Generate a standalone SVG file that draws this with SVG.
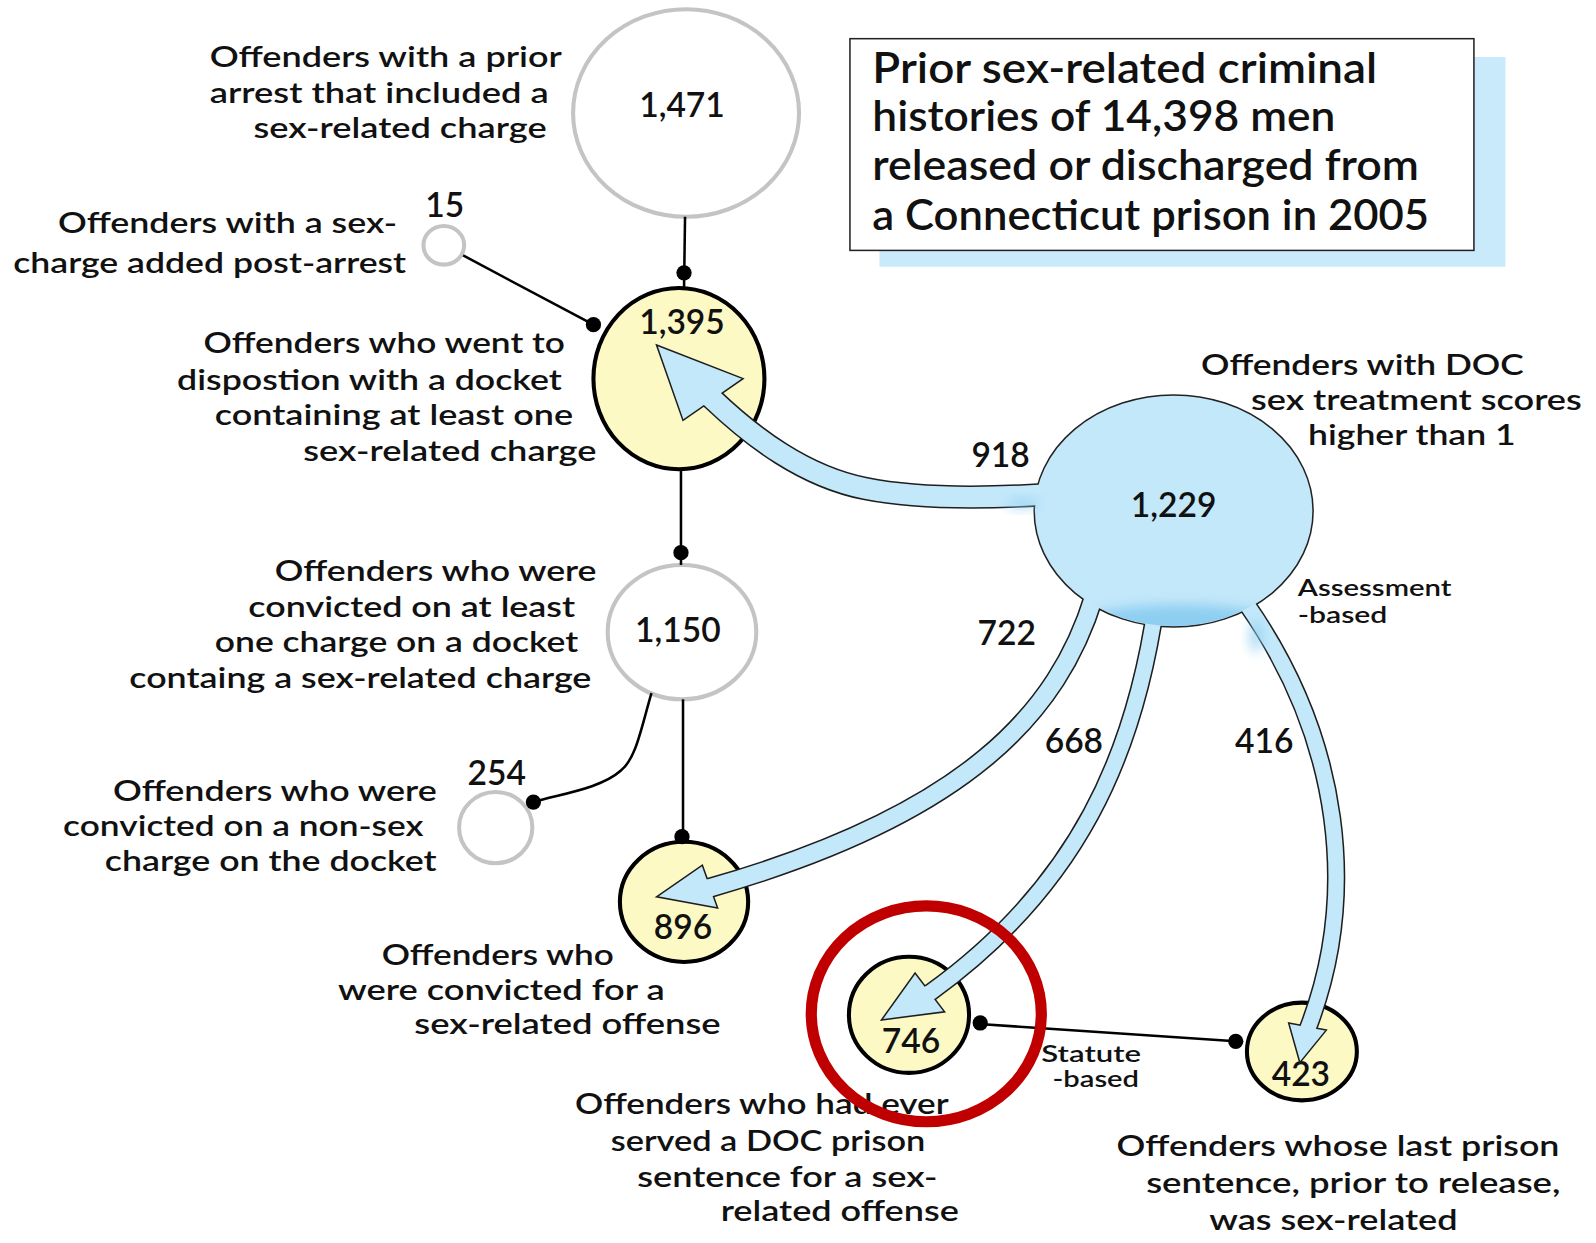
<svg xmlns="http://www.w3.org/2000/svg" width="1596" height="1243" viewBox="0 0 1596 1243">
<style>
text { font-family: Lato, "Open Sans", "Liberation Sans", sans-serif; fill: #111; }
.lbl { font-size: 29px; font-weight: 600; }
.num { font-size: 33px; font-weight: 600; text-anchor: middle; }
.ttl { font-size: 42px; font-weight: 600; }
.sm { font-size: 23px; font-weight: 600; }
.gray { fill: #fff; stroke: #c4c4c4; stroke-width: 4; }
.yel { fill: #fdf9c4; stroke: #000; stroke-width: 4; }
.ln { fill: none; stroke: #000; stroke-width: 2.5; }
.dot { fill: #000; }
.sh-o { fill: none; stroke: #1e1e1e; }
.sh-f { fill: none; stroke: #c3e8fa; }
.head { fill: #c3e8fa; stroke: #1e1e1e; stroke-width: 1.5; stroke-linejoin: miter; }
</style>
<defs>
<mask id="outside1229" maskUnits="userSpaceOnUse" x="0" y="0" width="1600" height="1250">
<rect x="0" y="0" width="1600" height="1250" fill="#fff"/>
<ellipse cx="1153" cy="502" rx="137" ry="114" fill="#000"/>
</mask>
<clipPath id="clip1229"><ellipse cx="1153" cy="502" rx="136" ry="113"/></clipPath>
<filter id="blur6" x="-50%" y="-50%" width="200%" height="200%"><feGaussianBlur stdDeviation="6"/></filter>
</defs>
<rect x="0" y="0" width="1596" height="1243" fill="#fff"/>
<g transform="scale(1.0179)">

<g id="title">
<rect x="864" y="56" width="615" height="206" fill="#c8eafa"/>
<rect x="835" y="38" width="613" height="208" fill="#fff" stroke="#222" stroke-width="1.5"/>
<text class="ttl" x="857" y="82" textLength="496" lengthAdjust="spacingAndGlyphs">Prior sex-related criminal</text>
<text class="ttl" x="857" y="129" textLength="455" lengthAdjust="spacingAndGlyphs">histories of 14,398 men</text>
<text class="ttl" x="857" y="177" textLength="537" lengthAdjust="spacingAndGlyphs">released or discharged from</text>
<text class="ttl" x="857" y="226" textLength="547" lengthAdjust="spacingAndGlyphs">a Connecticut prison in 2005</text>
</g>

<g id="node-1471">
<ellipse class="gray" cx="674" cy="111" rx="111" ry="102"/>
<text class="num" x="670" y="115">1,471</text>
<text class="lbl" x="206" y="66" textLength="346" lengthAdjust="spacingAndGlyphs">Offenders with a prior</text>
<text class="lbl" x="206" y="101" textLength="333" lengthAdjust="spacingAndGlyphs">arrest that included a</text>
<text class="lbl" x="249" y="136" textLength="288" lengthAdjust="spacingAndGlyphs">sex-related charge</text>
</g>

<g id="node-15">
<ellipse class="gray" cx="436" cy="241" rx="20" ry="19" stroke-width="3.5"/>
<text class="num" x="437" y="213">15</text>
<text class="lbl" x="57" y="229" textLength="333" lengthAdjust="spacingAndGlyphs">Offenders with a sex-</text>
<text class="lbl" x="13" y="268" textLength="386" lengthAdjust="spacingAndGlyphs">charge added post-arrest</text>
</g>

<g id="node-1395">
<ellipse class="yel" cx="667" cy="372" rx="84" ry="89"/>
<text class="num" x="670" y="328">1,395</text>
<text class="lbl" x="200" y="347" textLength="355" lengthAdjust="spacingAndGlyphs">Offenders who went to</text>
<text class="lbl" x="174" y="383" textLength="378" lengthAdjust="spacingAndGlyphs">dispostion with a docket</text>
<text class="lbl" x="211" y="418" textLength="352" lengthAdjust="spacingAndGlyphs">containing at least one</text>
<text class="lbl" x="298" y="453" textLength="288" lengthAdjust="spacingAndGlyphs">sex-related charge</text>
</g>

<g id="node-1229">
<ellipse cx="1153" cy="502" rx="137" ry="114" fill="#c3e8fa" stroke="#222" stroke-width="1.5"/>
<text class="num" x="1153" y="508">1,229</text>
<text class="lbl" x="1180" y="368" textLength="317" lengthAdjust="spacingAndGlyphs">Offenders with  DOC</text>
<text class="lbl" x="1229" y="403" textLength="325" lengthAdjust="spacingAndGlyphs">sex treatment scores</text>
<text class="lbl" x="1285" y="437" textLength="204" lengthAdjust="spacingAndGlyphs">higher than 1</text>
</g>

<g id="node-1150">
<ellipse class="gray" cx="670" cy="621" rx="73" ry="66"/>
<text class="num" x="666" y="631">1,150</text>
<text class="lbl" x="270" y="571" textLength="316" lengthAdjust="spacingAndGlyphs">Offenders who were</text>
<text class="lbl" x="244" y="606" textLength="321" lengthAdjust="spacingAndGlyphs">convicted on at least</text>
<text class="lbl" x="211" y="641" textLength="357" lengthAdjust="spacingAndGlyphs">one charge on a docket</text>
<text class="lbl" x="127" y="676" textLength="454" lengthAdjust="spacingAndGlyphs">containg a sex-related charge</text>
</g>

<g id="node-254">
<ellipse class="gray" cx="487" cy="813" rx="36" ry="35"/>
<text class="num" x="488" y="771">254</text>
<text class="lbl" x="111" y="787" textLength="318" lengthAdjust="spacingAndGlyphs">Offenders who were</text>
<text class="lbl" x="62" y="821" textLength="354" lengthAdjust="spacingAndGlyphs">convicted on a non-sex</text>
<text class="lbl" x="103" y="856" textLength="326" lengthAdjust="spacingAndGlyphs">charge on the docket</text>
</g>

<g id="node-896">
<ellipse class="yel" cx="672" cy="886" rx="63" ry="59"/>
<text class="num" x="671" y="922">896</text>
<text class="lbl" x="375" y="948" textLength="228" lengthAdjust="spacingAndGlyphs">Offenders who</text>
<text class="lbl" x="332" y="982" textLength="321" lengthAdjust="spacingAndGlyphs">were convicted  for a</text>
<text class="lbl" x="407" y="1016" textLength="301" lengthAdjust="spacingAndGlyphs">sex-related offense</text>
</g>

<g id="node-746">
<ellipse class="yel" cx="893" cy="997" rx="59" ry="57"/>
<text class="num" x="895" y="1034">746</text>
<text class="lbl" x="565" y="1094" textLength="367" lengthAdjust="spacingAndGlyphs">Offenders who had ever</text>
<text class="lbl" x="600" y="1131" textLength="309" lengthAdjust="spacingAndGlyphs">served a DOC prison</text>
<text class="lbl" x="626" y="1166" textLength="295" lengthAdjust="spacingAndGlyphs">sentence  for a sex-</text>
<text class="lbl" x="708" y="1200" textLength="234" lengthAdjust="spacingAndGlyphs">related offense</text>
</g>

<g id="node-423">
<ellipse class="yel" cx="1279" cy="1033" rx="54" ry="48"/>
<text class="num" x="1278" y="1067">423</text>
<text class="lbl" x="1097" y="1136" textLength="435" lengthAdjust="spacingAndGlyphs">Offenders whose last prison</text>
<text class="lbl" x="1126" y="1172" textLength="407" lengthAdjust="spacingAndGlyphs">sentence, prior to release,</text>
<text class="lbl" x="1188" y="1208" textLength="244" lengthAdjust="spacingAndGlyphs">was sex-related</text>
</g>

<g id="connectors">
<path class="ln" d="M673,213 L672,283"/>
<circle class="dot" cx="672" cy="268" r="7.5"/>
<path class="ln" d="M455,251 L583,319"/>
<circle class="dot" cx="583" cy="319" r="7.5"/>
<path class="ln" d="M669,461 L669,555"/>
<circle class="dot" cx="669" cy="543" r="7.5"/>
<path class="ln" d="M640,681 C630,715 625,745 610,757 C590,775 550,780 524,788"/>
<circle class="dot" cx="524" cy="788" r="7.5"/>
<path class="ln" d="M671,687 L671,828"/>
<circle class="dot" cx="670" cy="822" r="7.5"/>
<path class="ln" d="M962,1006 L1214,1023"/>
<circle class="dot" cx="963" cy="1005" r="7.5"/>
<circle class="dot" cx="1214" cy="1023" r="7.5"/>
<text class="sm" x="1023" y="1043" textLength="98" lengthAdjust="spacingAndGlyphs">Statute</text>
<text class="sm" x="1034" y="1068" textLength="85" lengthAdjust="spacingAndGlyphs">-based</text>

<g mask="url(#outside1229)">
<path class="sh-o" stroke-width="23" d="M1045,485 L1025,486 C960,490 900,490 850,480 C790,468 740,430 700,392 L694,387"/>
<path class="sh-o" stroke-width="20" d="M1085,565 L1075,585 C1040,700 950,800 698,872 L690,873"/>
<path class="sh-o" stroke-width="18" d="M1140,565 L1136,592 C1115,740 1060,870 914,975 L906,979"/>
<path class="sh-o" stroke-width="18" d="M1210,570 L1225,594 C1318,728 1335,880 1285,1010 L1283,1016"/>
</g>
<polygon class="head" points="645,339 730,372 671,413"/>
<polygon class="head" points="645,881 690,850 705,892"/>
<polygon class="head" points="866,1002 899,956 928,994"/>
<polygon class="head" points="1277,1044 1266,1005 1303,1012"/>
<path class="sh-f" stroke-width="20" d="M1045,485 L1025,486 C960,490 900,490 850,480 C790,468 740,430 700,392 L694,387"/>
<path class="sh-f" stroke-width="17" d="M1085,565 L1075,585 C1040,700 950,800 698,872 L690,873"/>
<path class="sh-f" stroke-width="15" d="M1140,565 L1136,592 C1115,740 1060,870 914,975 L906,979"/>
<path class="sh-f" stroke-width="15" d="M1210,570 L1225,594 C1318,728 1335,880 1285,1010 L1283,1016"/>
<g clip-path="url(#clip1229)" opacity="0.75">
<ellipse cx="1160" cy="614" rx="100" ry="20" fill="#7cc6ee" filter="url(#blur6)"/>
</g>
<ellipse cx="1005" cy="495" rx="16" ry="5" fill="#8fd0f2" opacity="0.7" filter="url(#blur6)"/>
<ellipse cx="1234" cy="625" rx="7" ry="16" fill="#8fd0f2" opacity="0.7" filter="url(#blur6)"/>

<text class="num" x="983" y="459">918</text>
<text class="num" x="989" y="634">722</text>
<text class="num" x="1055" y="740">668</text>
<text class="num" x="1242" y="740">416</text>
<text class="sm" x="1275" y="586" textLength="151" lengthAdjust="spacingAndGlyphs">Assessment</text>
<text class="sm" x="1275" y="612" textLength="88" lengthAdjust="spacingAndGlyphs">-based</text>
</g>

<g id="highlight">
<ellipse cx="910" cy="996" rx="113" ry="106" fill="none" stroke="#c00000" stroke-width="11"/>
</g>
</g>
</svg>
